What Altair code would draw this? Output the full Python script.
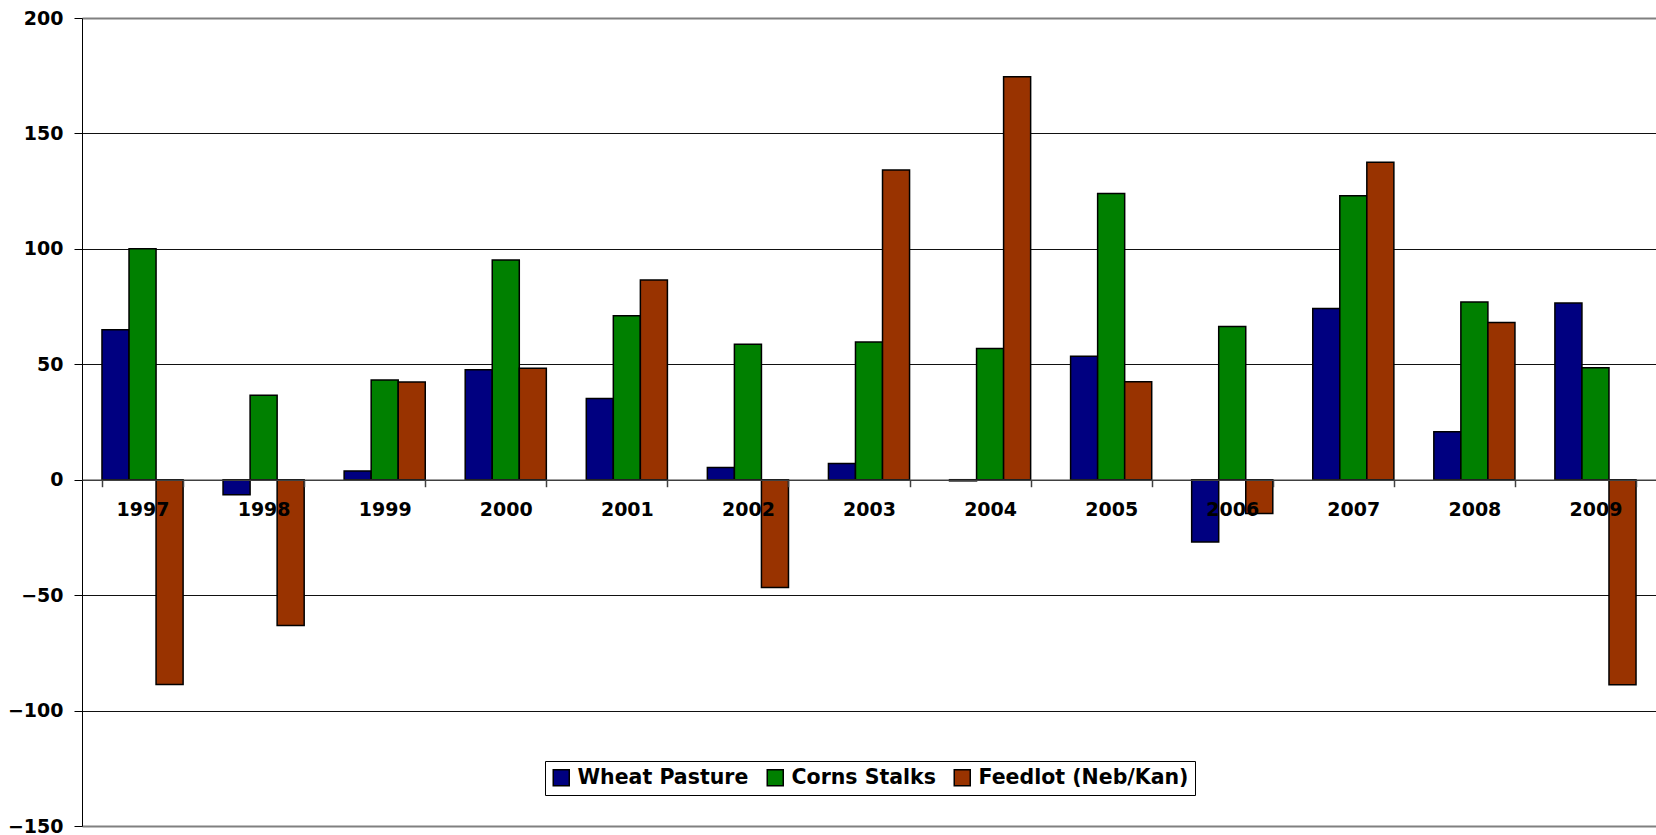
import altair as alt
import pandas as pd

years = ["1997", "1998", "1999", "2000", "2001", "2002", "2003",
         "2004", "2005", "2006", "2007", "2008", "2009"]
series = ["Wheat Pasture", "Corns Stalks", "Feedlot (Neb/Kan)"]
colors = ["#000080", "#008000", "#993300"]

wheat_pasture = [65, -6.5, 3.8, 47.6, 35.2, 5.3, 7, -0.5, 53.5, -27, 74.2, 20.8, 76.5]
corn_stalks = [100, 36.6, 43.2, 95.2, 71, 58.7, 59.7, 56.8, 124, 66.4, 123, 77, 48.5]
feedlot = [-88.7, -63.2, 42.3, 48.3, 86.5, -46.7, 134.2, 174.6, 42.4, -14.6, 137.5, 68.1, -88.8]

rows = []
for name, vals in zip(series, [wheat_pasture, corn_stalks, feedlot]):
    for y, v in zip(years, vals):
        rows.append({"year": y, "series": name, "value": v})
df = pd.DataFrame(rows)

H = 808
zero_offset = -(H - H * 200 / 350)

bars = alt.Chart(df).mark_bar(stroke="black", strokeWidth=1.5).encode(
    x=alt.X("year:N", sort=years,
            scale=alt.Scale(paddingInner=0.33, paddingOuter=0.165),
            axis=alt.Axis(title=None, offset=zero_offset, zindex=1,
                          tickBand="extent", tickSize=7, labelPadding=14,
                          labelAngle=0, labelFont="DejaVu Sans", labelFontSize=19,
                          labelFontWeight="bold", labelColor="black",
                          domainColor="#404040", domainWidth=1.5,
                          tickColor="#404040", tickWidth=1.5, grid=False)),
    xOffset=alt.XOffset("series:N", sort=series, scale=alt.Scale(paddingInner=0, paddingOuter=0)),
    y=alt.Y("value:Q",
            scale=alt.Scale(domain=[-150, 200], nice=False, zero=False),
            axis=alt.Axis(title=None, values=[-150, -100, -50, 0, 50, 100, 150, 200],
                          tickSize=8, labelPadding=11, labelFont="DejaVu Sans",
                          labelFontSize=19, labelFontWeight="bold", labelColor="black",
                          domainColor="black", tickColor="black",
                          gridColor=alt.condition("datum.value == 200 || datum.value == -150",
                                                  alt.value("#808080"), alt.value("#111111")),
                          gridWidth=alt.condition("datum.value == 200 || datum.value == -150",
                                                  alt.value(2), alt.value(1)))),
    color=alt.Color("series:N", sort=series,
                    scale=alt.Scale(domain=series, range=colors),
                    legend=alt.Legend(orient="none", legendX=463, legendY=743,
                                      direction="horizontal", title=None,
                                      strokeColor="black", fillColor="white",
                                      padding=6, symbolType="square", symbolSize=256,
                                      symbolStrokeColor="black", symbolStrokeWidth=1.5,
                                      labelFont="DejaVu Sans", labelFontSize=20.5,
                                      labelFontWeight="bold", labelColor="black",
                                      columnPadding=15, labelOffset=6, labelLimit=400)),
)

chart = bars.properties(
    width=1574, height=H,
    padding={"left": 82, "top": 18, "right": 0, "bottom": 8},
    autosize=alt.AutoSizeParams(type="none"),
).configure_view(stroke=None).configure(background="white")

chart.save("out.html", embed_options={"renderer": "svg", "actions": False})
